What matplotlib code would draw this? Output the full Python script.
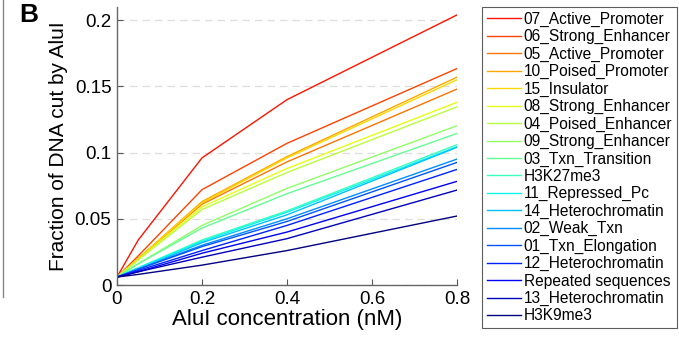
import numpy as np
import matplotlib
matplotlib.use("Agg")
import matplotlib.pyplot as plt
from matplotlib.lines import Line2D

plt.rcParams['font.family'] = ['Liberation Sans', 'DejaVu Sans']

# AluI concentration (nM)
conc = [0, 0.05, 0.2, 0.4, 0.8]

states = [
    "07_Active_Promoter", "06_Strong_Enhancer", "05_Active_Promoter",
    "10_Poised_Promoter", "15_Insulator", "08_Strong_Enhancer",
    "04_Poised_Enhancer", "09_Strong_Enhancer", "03_Txn_Transition",
    "H3K27me3", "11_Repressed_Pc", "14_Heterochromatin", "02_Weak_Txn",
    "01_Txn_Elongation", "12_Heterochromatin", "Repeated sequences",
    "13_Heterochromatin", "H3K9me3",
]

# fraction of DNA cut, one list per state (same order as states)
frac_07 = [0.006, 0.034, 0.096, 0.140, 0.204]
frac_06 = [0.006, 0.022, 0.072, 0.107, 0.1635]
frac_05 = [0.006, 0.020, 0.061, 0.093, 0.148]
frac_10 = [0.006, 0.020, 0.063, 0.097, 0.157]
frac_15 = [0.006, 0.020, 0.062, 0.096, 0.155]
frac_08 = [0.006, 0.019, 0.059, 0.088, 0.138]
frac_04 = [0.006, 0.019, 0.057, 0.085, 0.1346]
frac_09 = [0.006, 0.016, 0.045, 0.073, 0.1203]
frac_03 = [0.006, 0.016, 0.043, 0.069, 0.1145]
frac_k27 = [0.006, 0.013, 0.034, 0.056, 0.106]
frac_11 = [0.006, 0.013, 0.033, 0.055, 0.1045]
frac_14 = [0.006, 0.012, 0.032, 0.053, 0.104]
frac_02 = [0.006, 0.012, 0.030, 0.050, 0.0951]
frac_01 = [0.006, 0.012, 0.029, 0.048, 0.0926]
frac_12 = [0.006, 0.011, 0.026, 0.045, 0.0873]
frac_rep = [0.006, 0.010, 0.024, 0.040, 0.0783]
frac_13 = [0.006, 0.010, 0.021, 0.035, 0.0717]
frac_k9 = [0.006, 0.008, 0.015, 0.026, 0.0521]

fracs = [frac_07, frac_06, frac_05, frac_10, frac_15, frac_08, frac_04,
         frac_09, frac_03, frac_k27, frac_11, frac_14, frac_02, frac_01,
         frac_12, frac_rep, frac_13, frac_k9]

colors = plt.cm.jet(np.linspace(0.89, 0.0, len(states)))

fig = plt.figure(figsize=(6.79, 3.38), dpi=100)
ax = fig.add_axes([0.1723, 0.1568, 0.5007, 0.8225])

for name, y, c in zip(states, fracs, colors):
    ax.plot(conc, y, color=c, lw=1.0, label=name)

ax.set_xlim(0, 0.8)
ax.set_ylim(0, 0.21)
ax.set_xticks([0, 0.2, 0.4, 0.6, 0.8])
ax.set_xticklabels(["0", "0.2", "0.4", "0.6", "0.8"])
ax.set_yticks([0, 0.05, 0.1, 0.15, 0.2])
ax.set_yticklabels(["0", "0.05", "0.1", "0.15", "0.2"])
ax.tick_params(direction='in', labelsize=13.5, color='#555555', length=4, pad=4)
ax.yaxis.grid(True, ls=(0, (6, 4)), color='#dddddd', lw=0.9)
ax.set_axisbelow(True)
for s in ['top', 'right']:
    ax.spines[s].set_visible(False)
for s in ['left', 'bottom']:
    ax.spines[s].set_color('#666666')
    ax.spines[s].set_linewidth(1.0)

ax.set_xlabel("AluI concentration (nM)", fontsize=16, labelpad=1)
ax.set_ylabel("Fraction of DNA cut by AluI", fontsize=15, labelpad=5)

leg = ax.legend(loc='upper left', bbox_to_anchor=(1.075, 1.0), fontsize=11.2,
                frameon=True, fancybox=False, edgecolor='#333333',
                handlelength=2.2, handletextpad=0.15, labelspacing=0.15,
                borderpad=0.3, borderaxespad=0)
leg.get_frame().set_linewidth(0.8)

fig.text(0.042, 0.955, "B", fontsize=19, fontweight='bold', ha='center', va='center')
fig.add_artist(Line2D([0.0045, 0.0045], [0.12, 1.0], color='#888888', lw=1.0,
                      transform=fig.transFigure))

fig.savefig("out.png", dpi=100)
